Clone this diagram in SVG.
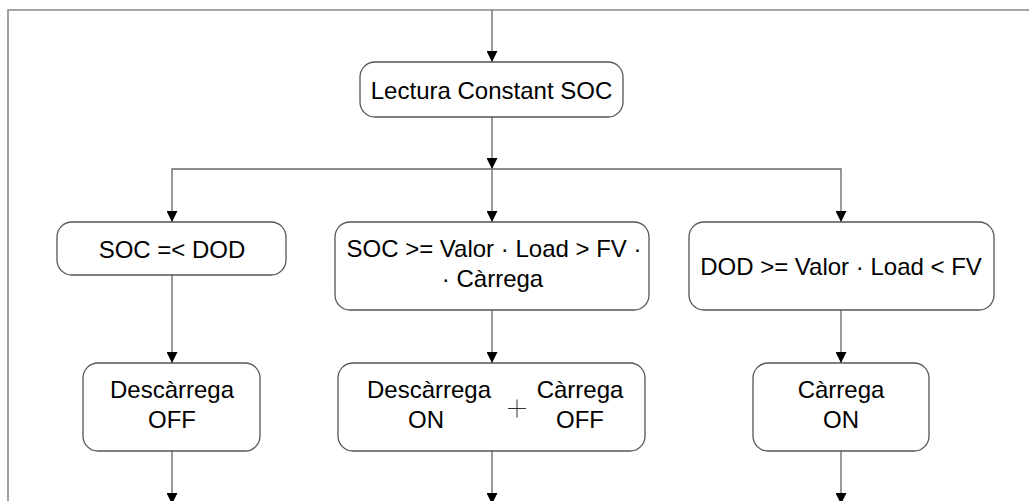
<svg xmlns="http://www.w3.org/2000/svg" width="1029" height="501" viewBox="0 0 1029 501">
<defs>
<marker id="ah" markerWidth="11" markerHeight="11" refX="11" refY="5.5" orient="auto" markerUnits="userSpaceOnUse">
<path d="M0,0 L11,5.5 L0,11 Z" fill="#000"/>
</marker>
<style>
.box{fill:#fff;stroke:#555;stroke-width:1.3}
.ln{fill:none;stroke:#666;stroke-width:1.3}
.fr{fill:none;stroke:#888;stroke-width:1.6}
text{font-family:"Liberation Sans",Arial,sans-serif;font-size:24px;fill:#000;text-anchor:middle}
</style>
</defs>
<rect width="1029" height="501" fill="#fff"/>
<path class="fr" d="M1029,10 H8 V501"/>
<g id="connectors">
<line class="ln" x1="492" y1="10" x2="492" y2="62" marker-end="url(#ah)"/>
<line class="ln" x1="492" y1="117" x2="492" y2="169" marker-end="url(#ah)"/>
<line class="ln" x1="492" y1="169" x2="492" y2="222" marker-end="url(#ah)"/>
<path class="ln" d="M492,169 H172 V222" marker-end="url(#ah)"/>
<path class="ln" d="M492,169 H841 V222" marker-end="url(#ah)"/>
<line class="ln" x1="172" y1="275" x2="172" y2="363" marker-end="url(#ah)"/>
<line class="ln" x1="492" y1="310" x2="492" y2="363" marker-end="url(#ah)"/>
<line class="ln" x1="841" y1="310" x2="841" y2="363" marker-end="url(#ah)"/>
<line class="ln" x1="172" y1="451" x2="172" y2="504" marker-end="url(#ah)"/>
<line class="ln" x1="492" y1="451" x2="492" y2="504" marker-end="url(#ah)"/>
<line class="ln" x1="841" y1="451" x2="841" y2="504" marker-end="url(#ah)"/>
</g>
<g id="lectura">
<rect class="box" x="360" y="62" width="263" height="55" rx="15"/>
<text x="491.5" y="99">Lectura Constant SOC</text>
</g>
<g id="cond-left">
<rect class="box" x="57" y="222" width="229" height="53" rx="15"/>
<text x="172" y="258">SOC =&lt; DOD</text>
</g>
<g id="cond-center">
<rect class="box" x="335" y="222" width="314" height="88" rx="15"/>
<text x="494" y="257">SOC &gt;= Valor · Load &gt; FV ·</text>
<text x="492.5" y="287">· Càrrega</text>
</g>
<g id="cond-right">
<rect class="box" x="689" y="222" width="305" height="88" rx="15"/>
<text x="841" y="275">DOD &gt;= Valor · Load &lt; FV</text>
</g>
<g id="act-left">
<rect class="box" x="83" y="363" width="177" height="88" rx="15"/>
<text x="172" y="398">Descàrrega</text>
<text x="172" y="428">OFF</text>
</g>
<g id="act-center">
<rect class="box" x="338" y="363" width="307" height="88" rx="15"/>
<text x="429" y="398">Descàrrega</text>
<text x="426" y="428">ON</text>
<path d="M508,408.5 H526 M517,399.5 V417.5" stroke="#333" stroke-width="1" fill="none"/>
<text x="580" y="398">Càrrega</text>
<text x="580" y="428">OFF</text>
</g>
<g id="act-right">
<rect class="box" x="753" y="363" width="176" height="88" rx="15"/>
<text x="841" y="398">Càrrega</text>
<text x="841" y="428">ON</text>
</g>
</svg>
